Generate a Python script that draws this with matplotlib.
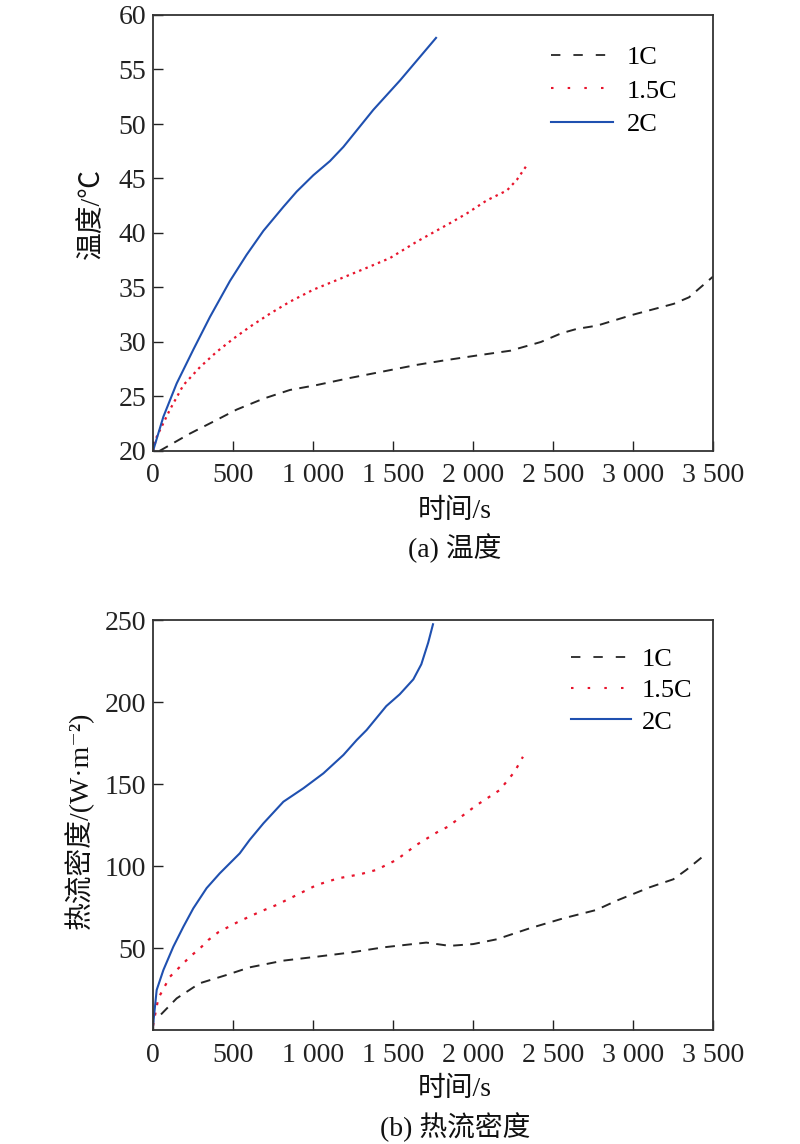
import matplotlib
matplotlib.use("Agg")
import matplotlib.pyplot as plt
from matplotlib.lines import Line2D

plt.rcParams['font.family'] = ['Liberation Serif', 'Noto Sans CJK SC', 'DejaVu Serif']
plt.rcParams['axes.unicode_minus'] = False

# ---------------- data: (a) temperature ----------------
t_1c = [40, 231, 398, 523, 690, 856, 1023, 1231, 1440, 1648, 1815, 2042, 2233, 2424, 2552, 2648, 2775, 2999, 3254, 3350, 3500]
T_1c = [20.0, 21.6, 22.85, 23.8, 24.8, 25.6, 26.05, 26.7, 27.3, 27.9, 28.3, 28.8, 29.2, 30.0, 30.8, 31.2, 31.5, 32.5, 33.5, 34.1, 36.0]

t_15c = [0, 23, 106, 190, 294, 398, 502, 606, 731, 856, 1002, 1169, 1335, 1481, 1648, 1856, 1962, 2087, 2212, 2275, 2331]
T_15c = [20.0, 21.3, 23.8, 26.05, 27.7, 29.1, 30.3, 31.4, 32.6, 33.7, 34.8, 35.8, 36.8, 37.7, 39.2, 40.9, 41.8, 43.0, 43.9, 44.9, 46.1]

t_2c = [0, 65, 148, 252, 356, 481, 585, 690, 815, 898, 1002, 1106, 1190, 1377, 1544, 1769]
T_2c = [20.0, 23.15, 26.2, 29.3, 32.3, 35.6, 38.0, 40.2, 42.4, 43.8, 45.3, 46.6, 47.9, 51.3, 54.0, 57.9]

# ---------------- data: (b) heat flux density ----------------
h_t_1c = [50, 148, 292, 458, 604, 815, 1023, 1231, 1440, 1708, 1854, 2002, 2148, 2354, 2565, 2771, 2896, 3104, 3252, 3333, 3448]
h_q_1c = [9.5, 19.3, 28.5, 33.5, 38.2, 42.3, 44.7, 47.2, 50.4, 53.3, 51.3, 52.4, 55.3, 62.0, 68.1, 73.2, 78.8, 87.0, 91.9, 97.6, 106.7]

h_t_15c = [0, 33, 106, 169, 231, 294, 346, 408, 533, 669, 771, 898, 1023, 1158, 1292, 1396, 1521, 1646, 1781, 1844, 2021, 2167, 2260, 2312]
h_q_15c = [2.5, 19.3, 32.5, 38.6, 44.7, 49.8, 54.9, 59.6, 66.0, 72.1, 76.2, 82.3, 88.4, 92.5, 94.9, 97.6, 103.7, 112.8, 120.9, 124.0, 137.0, 146.3, 157.5, 166.6]

h_t_2c = [0, 23, 65, 127, 190, 252, 335, 417, 542, 604, 690, 815, 940, 1065, 1190, 1273, 1335, 1458, 1542, 1627, 1677, 1720, 1750]
h_q_2c = [2.5, 24.4, 36.6, 50.8, 63.0, 74.2, 86.5, 95.5, 107.7, 115.9, 126.0, 139.2, 147.4, 156.5, 167.7, 176.8, 182.9, 197.5, 204.7, 213.8, 223.0, 236.2, 247.4]

series_labels = ['1C', '1.5C', '2C']
x_ticks = [0, 500, 1000, 1500, 2000, 2500, 3000, 3500]
x_ticklabels = ['0', '500', '1 000', '1 500', '2 000', '2 500', '3 000', '3 500']
y_ticks_a = [20, 25, 30, 35, 40, 45, 50, 55, 60]
y_ticks_b = [50, 100, 150, 200, 250]

c_black = '#262626'
c_red = '#e8142c'
c_blue = '#1f50b0'

W, H = 800, 1144
fig = plt.figure(figsize=(W / 100, H / 100), dpi=100)

ax1 = fig.add_axes([153 / W, 1 - 451 / H, 560 / W, 436 / H])
ax2 = fig.add_axes([153 / W, 1 - 1030 / H, 560 / W, 410 / H])

FS = 20
LFS = 19

def style(ax, yt):
    ax.set_xlim(0, 3500)
    ax.set_xticks(x_ticks)
    ax.set_xticklabels(x_ticklabels)
    ax.set_yticks(yt)
    ax.tick_params(direction='in', length=7, width=1.0, labelsize=FS, colors='#222222',
                   top=False, right=False)
    ax.tick_params(axis='x', pad=9)
    ax.tick_params(axis='y', pad=5)
    for s in ax.spines.values():
        s.set_color('#333333')
        s.set_linewidth(1.3)

def legend_handles():
    return [Line2D([], [], color=c_black, lw=1.3, dashes=(5.2, 7.2)),
            Line2D([], [], color=c_red, lw=1.5, dashes=(1.2, 6.8)),
            Line2D([], [], color=c_blue, lw=1.5)]

# (a)
ax1.plot(t_1c, T_1c, color=c_black, lw=1.4, dashes=(5, 3.8))
ax1.plot(t_15c, T_15c, color=c_red, lw=1.6, dashes=(1.1, 1.95))
ax1.plot(t_2c, T_2c, color=c_blue, lw=1.5)
ax1.set_ylim(20, 60)
style(ax1, y_ticks_a)
ax1.legend(legend_handles(), series_labels, loc='upper left', bbox_to_anchor=(0.711, 0.929),
           frameon=False, fontsize=LFS, handlelength=2.35, handletextpad=0.53,
           labelspacing=0.37, borderpad=0, borderaxespad=0)

# (b)
ax2.plot(h_t_1c, h_q_1c, color=c_black, lw=1.4, dashes=(5, 3.8))
ax2.plot(h_t_15c, h_q_15c, color=c_red, lw=1.6, dashes=(1.35, 3.4))
ax2.plot(h_t_2c, h_q_2c, color=c_blue, lw=1.5)
ax2.set_ylim(0, 250)
style(ax2, y_ticks_b)
ax2.legend(legend_handles(), series_labels, loc='upper left', bbox_to_anchor=(0.746, 0.932),
           frameon=False, fontsize=LFS, handlelength=2.3, handletextpad=0.38,
           labelspacing=0.29, borderpad=0, borderaxespad=0)

def ftext(x, y, s, **kw):
    fig.text(x / W, 1 - y / H, s, ha='center', va='center', fontsize=20, color='#111111', **kw)

ftext(92, 213, '温度/℃', rotation=90)
ftext(455, 511, '时间/s')
ftext(455, 548, '(a) 温度')
ftext(79, 820, '热流密度/(W·m⁻²)', rotation=90)
ftext(455, 1089, '时间/s')
ftext(455, 1127, '(b) 热流密度')

fig.savefig('out.png', dpi=100)
